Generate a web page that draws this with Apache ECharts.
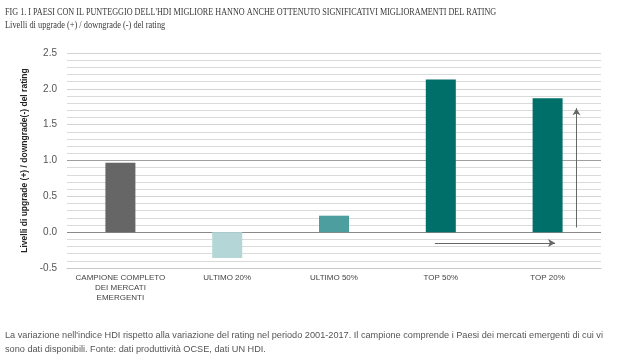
<!DOCTYPE html>
<html><head><meta charset="utf-8">
<script src="https://cdn.jsdelivr.net/npm/echarts@6/dist/echarts.min.js"></script>
<style>html,body{margin:0;padding:0;background:#fff}#c{width:622px;height:357px}</style>
</head><body><div id="c"></div>
<script>
const categories = ['CAMPIONE COMPLETO\nDEI MERCATI\nEMERGENTI', 'ULTIMO 20%', 'ULTIMO 50%', 'TOP 50%', 'TOP 20%'];
const values = [0.97, -0.36, 0.23, 2.13, 1.87];
const barColors = ['#666666', '#b4d6d7', '#4c9e9f', '#006f6a', '#006f6a'];
const yTicks = [-0.5, 0.0, 0.5, 1.0, 1.5, 2.0, 2.5];
const arrowH = [[2.945, -0.15], [4.07, -0.15]];
const arrowV = [[4.27, 0.065], [4.27, 1.73]];
const titleText = "FIG 1. I PAESI CON IL PUNTEGGIO DELL'HDI MIGLIORE HANNO ANCHE OTTENUTO SIGNIFICATIVI MIGLIORAMENTI DEL RATING";
const subtitleText = "Livelli di upgrade (+) / downgrade (-) del rating";
const yName = "Livelli di upgrade (+) / downgrade(-) del rating";
const footer1 = "La variazione nell'indice HDI rispetto alla variazione del rating nel periodo 2001-2017. Il campione comprende i Paesi dei mercati emergenti di cui vi";
const footer2 = "sono dati disponibili. Fonte: dati produttività OCSE, dati UN HDI.";

const chart = echarts.init(document.getElementById('c'));
const gridColors = yTicks.map(v => v === 0 ? '#8a8a8a' : (v === 1 ? '#a0a0a0' : '#d3d3d3'));
chart.setOption({
  animation: false,
  grid: {left: 67, right: 21, top: 53, bottom: 89},
  xAxis: [{
    type: 'category', data: categories,
    axisLine: {show: true, onZero: false, lineStyle: {color: '#c8c8c8', width: 1}},
    axisTick: {show: false},
    axisLabel: {interval: 0, color: '#444', fontSize: 8, fontFamily: 'Liberation Sans', lineHeight: 10, margin: 5}
  }, {
    type: 'value', min: -0.5, max: 4.5, show: false
  }],
  yAxis: {
    type: 'value', min: -0.5, max: 2.5, interval: 0.5,
    name: yName, nameLocation: 'middle', nameGap: 36,
    nameTextStyle: {fontSize: 8.5, fontWeight: 'bold', color: '#222', fontFamily: 'Liberation Sans'},
    axisLine: {show: false}, axisTick: {show: false},
    axisLabel: {color: '#555', fontSize: 10, fontFamily: 'Liberation Sans', margin: 10, formatter: v => v.toFixed(1)},
    splitLine: {show: true, lineStyle: {color: gridColors, width: 1}},
    minorTick: {show: false, splitNumber: 5},
    minorSplitLine: {show: true, lineStyle: {color: '#dadada', width: 1}}
  },
  series: [{
    type: 'bar', barWidth: 30,
    data: values.map((v, i) => ({value: v, itemStyle: {color: barColors[i]}}))
  }, {
    type: 'line', xAxisIndex: 1, data: [], silent: true,
    markLine: {
      silent: true, symbol: ['none', 'arrow'], symbolSize: [6, 7],
      label: {show: false},
      lineStyle: {color: '#666', width: 1, type: 'solid'},
      data: [
        [{coord: arrowH[0]}, {coord: arrowH[1]}],
        [{coord: arrowV[0]}, {coord: arrowV[1]}]
      ]
    }
  }],
  graphic: [
    {type: 'text', x: 5, y: 6.5, scaleX: 0.776, style: {text: titleText, fontFamily: 'Liberation Serif', fontSize: 10.5, fill: '#3a3a3a', textVerticalAlign: 'top'}},
    {type: 'text', x: 5, y: 20, scaleX: 0.76, style: {text: subtitleText, fontFamily: 'Liberation Serif', fontSize: 11, fill: '#3a3a3a', textVerticalAlign: 'top'}},
    {type: 'text', x: 5, y: 330, scaleX: 0.965, style: {text: footer1, fontFamily: 'Liberation Sans', fontSize: 9.5, fill: '#555', textVerticalAlign: 'top'}},
    {type: 'text', x: 5, y: 344, scaleX: 0.965, style: {text: footer2, fontFamily: 'Liberation Sans', fontSize: 9.5, fill: '#555', textVerticalAlign: 'top'}}
  ]
});
</script>
</body></html>
